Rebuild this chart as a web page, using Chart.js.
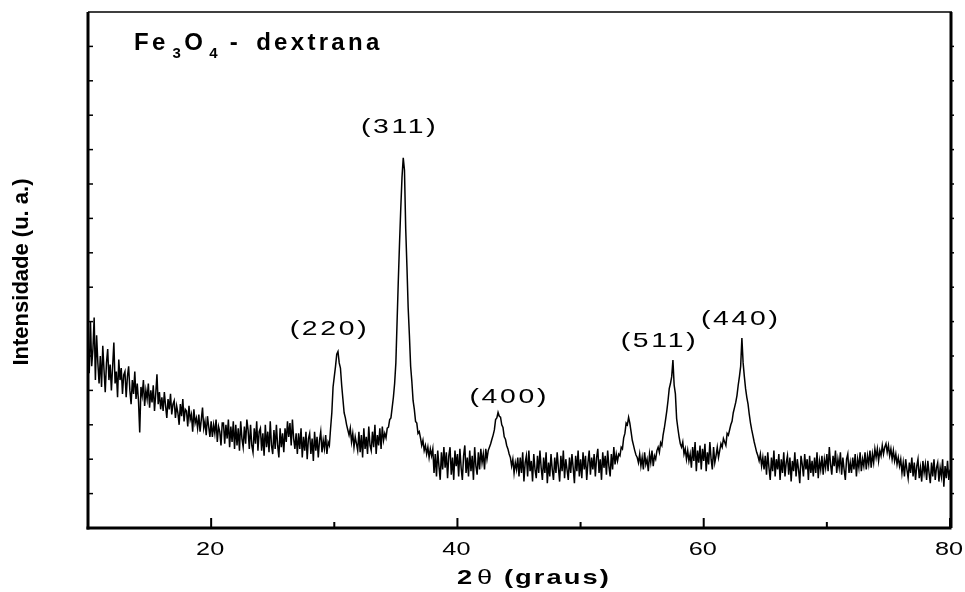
<!DOCTYPE html>
<html>
<head>
<meta charset="utf-8">
<script src="https://cdn.jsdelivr.net/npm/chart.js@4.4.0/dist/chart.umd.min.js"></script>
<style>
  html, body { margin: 0; padding: 0; background: #fff; }
  canvas { display: block; }
</style>
</head>
<body>
<canvas id="chart" width="965" height="592"></canvas>
<script>
// 2theta grid: 10.0 .. 80.0 deg, step 0.1 deg
const startAngle = 10;
const angleStep = 0.1;

// intensity (a.u.), one row = 1 degree
const intensity = [
  540, 450, 600, 470, 520, 612, 430, 560, 480, 420, // 10
  500, 410, 530, 460, 395, 480, 520, 430, 475, 400, // 11
  470, 539, 420, 455, 380, 490, 430, 465, 390, 445, // 12
  455, 380, 440, 470, 400, 360, 430, 390, 455, 375, // 13
  420, 370, 278, 410, 385, 430, 355, 400, 375, 420, // 14
  350, 400, 365, 415, 340, 390, 447, 360, 395, 345, // 15
  380, 340, 395, 355, 320, 375, 345, 390, 330, 360, // 16
  370, 320, 355, 335, 300, 360, 325, 375, 310, 345, // 17
  340, 295, 355, 315, 330, 280, 345, 305, 320, 290, // 18
  330, 280, 315, 350, 290, 310, 270, 325, 295, 265, // 19
  310, 265, 300, 275, 315, 250, 295, 280, 240, 305, // 20
  305, 245, 300, 260, 315, 235, 295, 250, 310, 230, // 21
  300, 240, 290, 225, 310, 260, 235, 295, 245, 315, // 22
  285, 230, 300, 240, 220, 290, 245, 310, 225, 280, // 23
  290, 225, 275, 210, 300, 235, 280, 220, 310, 240, // 24
  215, 285, 230, 300, 240, 205, 290, 235, 275, 220, // 25
  290, 250, 310, 265, 305, 240, 315, 260, 230, 275, // 26
  215, 275, 230, 290, 205, 265, 225, 280, 200, 260, // 27
  275, 215, 260, 195, 280, 225, 265, 205, 255, 280, // 28
  220, 255, 230, 270, 215, 250, 240, 290, 335, 410, // 29
  440, 470, 505, 513, 480, 465, 415, 375, 335, 320, // 30
  300, 285, 270, 290, 250, 275, 235, 265, 245, 225, // 31
  280, 220, 270, 205, 290, 230, 265, 215, 295, 240, // 32
  225, 280, 235, 300, 215, 270, 240, 290, 230, 295, // 33
  255, 275, 262, 290, 293, 315, 320, 350, 380, 420, // 34
  480, 600, 720, 830, 930, 1020, 1076, 1040, 870, 760, // 35
  640, 560, 470, 425, 370, 345, 310, 305, 275, 280, // 36
  262, 240, 255, 225, 240, 215, 235, 205, 230, 210, // 37
  230, 160, 215, 150, 225, 180, 140, 220, 170, 235, // 38
  175, 220, 145, 210, 235, 155, 205, 140, 225, 180, // 39
  215, 150, 230, 175, 140, 210, 240, 160, 205, 150, // 40
  225, 165, 210, 140, 235, 180, 155, 220, 170, 230, // 41
  190, 215, 170, 230, 200, 225, 235, 245, 258, 270, // 42
  285, 315, 320, 336, 325, 322, 300, 292, 265, 258, // 43
  240, 230, 215, 205, 180, 200, 160, 190, 170, 205, // 44
  150, 205, 160, 220, 135, 190, 210, 150, 225, 165, // 45
  195, 135, 215, 170, 145, 210, 160, 225, 175, 140, // 46
  205, 160, 220, 130, 190, 150, 215, 170, 140, 205, // 47
  160, 220, 175, 135, 210, 165, 225, 145, 200, 170, // 48
  140, 205, 160, 215, 175, 130, 210, 165, 225, 150, // 49
  200, 145, 220, 170, 210, 140, 190, 225, 155, 205, // 50
  170, 215, 150, 205, 230, 160, 200, 140, 220, 175, // 51
  210, 155, 225, 180, 150, 215, 170, 235, 185, 215, // 52
  195, 215, 210, 235, 230, 262, 275, 305, 300, 322, // 53
  305, 280, 255, 240, 225, 212, 205, 190, 215, 180, // 54
  205, 170, 220, 185, 200, 165, 215, 190, 225, 180, // 55
  210, 200, 225, 235, 220, 248, 240, 270, 290, 314, // 56
  340, 370, 405, 420, 440, 488, 415, 390, 318, 290, // 57
  265, 245, 235, 250, 215, 230, 200, 225, 195, 215, // 58
  175, 235, 195, 250, 165, 225, 190, 240, 170, 230, // 59
  195, 245, 165, 220, 185, 250, 200, 170, 235, 190, // 60
  210, 235, 205, 225, 245, 235, 260, 250, 240, 275, // 61
  270, 285, 300, 310, 335, 350, 365, 385, 415, 440, // 62
  470, 552, 480, 440, 405, 380, 360, 330, 305, 285, // 63
  268, 250, 235, 220, 210, 195, 215, 180, 205, 170, // 64
  210, 155, 220, 175, 140, 205, 165, 225, 150, 200, // 65
  170, 215, 140, 200, 160, 220, 150, 190, 210, 155, // 66
  205, 135, 195, 165, 220, 150, 200, 170, 130, 210, // 67
  185, 150, 215, 170, 200, 140, 210, 160, 195, 150, // 68
  205, 160, 220, 145, 195, 170, 210, 155, 200, 175, // 69
  215, 165, 235, 185, 155, 210, 180, 225, 160, 200, // 70
  175, 220, 155, 205, 170, 140, 200, 215, 160, 190, // 71
  160, 205, 170, 215, 150, 200, 175, 220, 165, 200, // 72
  180, 220, 170, 210, 185, 225, 175, 215, 190, 230, // 73
  205, 230, 195, 225, 210, 240, 215, 235, 245, 220, // 74
  240, 210, 230, 200, 225, 195, 215, 185, 205, 180, // 75
  200, 160, 190, 150, 200, 170, 145, 190, 160, 205, // 76
  150, 190, 140, 180, 200, 145, 175, 135, 195, 160, // 77
  185, 140, 195, 160, 130, 190, 150, 200, 140, 175, // 78
  190, 135, 175, 150, 200, 120, 180, 145, 195, 140, // 79
  170                                               // 80
];

const angles = intensity.map((_, i) => +(startAngle + i * angleStep).toFixed(1));

// axis
const xMin = 10, xMax = 80, xStep = 10;
const xLabelTicks = [20, 40, 60, 80];
const yMin = 0, yMax = 1500, yStep = 100;

// peak labels (hkl), placed at angle / intensity
const peakLabels = ["(220)", "(311)", "(400)", "(511)", "(440)"];
const peakLabelAngles = [29.5, 35.2, 44.1, 56.3, 62.9];
const peakLabelHeights = [578, 1166, 381, 544, 608];

const FONT = "'Liberation Sans', Arial, sans-serif";

// draws a sequence of text runs (for subscripts / mixed weights)
function drawRuns(ctx, runs, x, y, opts) {
  ctx.save();
  ctx.translate(x, y);
  if (opts.rotate) ctx.rotate(opts.rotate);
  ctx.scale(opts.sx || 1, 1);
  ctx.letterSpacing = (opts.ls || 0) + "px";
  ctx.textBaseline = opts.baseline || "alphabetic";
  ctx.textAlign = "left";
  let total = 0;
  runs.forEach(r => {
    ctx.font = r.font;
    total += (r.dx || 0) + ctx.measureText(r.t).width;
  });
  total -= opts.ls || 0;
  let cx = opts.align === "center" ? -total / 2 : 0;
  runs.forEach(r => {
    ctx.font = r.font;
    cx += r.dx || 0;
    ctx.fillText(r.t, cx, r.dy || 0);
    cx += ctx.measureText(r.t).width;
  });
  ctx.restore();
}

const framePlugin = {
  id: "frame",
  afterDatasetsDraw(chart) {
    const { ctx, chartArea: a, scales: { x, y } } = chart;
    ctx.save();
    ctx.fillStyle = "#000";

    // box
    ctx.fillRect(a.left - 1.5, a.top, 3, a.bottom - a.top + 1.5);
    ctx.fillRect(a.left - 1.5, a.bottom - 1.5, a.right - a.left + 3, 3);
    ctx.fillRect(a.right - 0.5, a.top, 3, a.bottom - a.top);
    ctx.fillRect(a.left, a.top - 0.75, a.right - a.left + 2, 1.5);

    // y ticks (no labels)
    y.ticks.forEach(t => {
      if (t.value <= yMin || t.value >= yMax) return;
      const py = y.getPixelForValue(t.value);
      ctx.fillRect(a.left, py - 0.75, 5, 1.5);
      ctx.fillRect(a.right + 2, py - 0.75, 2, 1.5);
    });

    // x ticks + labels
    x.ticks.forEach(t => {
      if (t.value <= xMin) return;
      const px = x.getPixelForValue(t.value);
      const major = xLabelTicks.includes(t.value);
      const len = major ? 10 : 6;
      ctx.fillRect(px - 1, a.bottom - len, 2, len);
      if (major) {
        drawRuns(ctx, [{ t: String(t.value), font: "19px " + FONT }],
          px - 1, a.bottom + 22, { align: "center", baseline: "middle", sx: 1.33 });
      }
    });

    // axis titles
    drawRuns(ctx, [
      { t: "2", font: "bold 21px " + FONT },
      { t: "θ", font: "21px " + FONT, dx: 2 },
      { t: " (graus)", font: "bold 21px " + FONT }
    ], (a.left + a.right) / 2 + 14, a.bottom + 50, { align: "center", baseline: "middle", sx: 1.3, ls: 1.6 });

    drawRuns(ctx, [{ t: "Intensidade (u. a.)", font: "bold 22px " + FONT }],
      22, (a.top + a.bottom) / 2 + 2, { align: "center", baseline: "middle", rotate: -Math.PI / 2 });

    // sample title
    const big = "bold 24px " + FONT, sub = "bold 15px " + FONT;
    drawRuns(ctx, [
      { t: "Fe", font: big },
      { t: "3", font: sub, dx: 4, dy: 8 },
      { t: "O", font: big },
      { t: "4", font: sub, dx: 3, dy: 8 },
      { t: "-", font: big, dx: 9 },
      { t: "dextrana", font: big, dx: 15 }
    ], a.left + 46, a.top + 38, { ls: 3.3 });

    // peak labels
    peakLabels.forEach((lab, i) => {
      drawRuns(ctx, [{ t: lab, font: "21px " + FONT }],
        x.getPixelForValue(peakLabelAngles[i]), y.getPixelForValue(peakLabelHeights[i]),
        { align: "center", baseline: "middle", sx: 1.35, ls: 2 });
    });

    ctx.restore();
  }
};

const ctx = document.getElementById("chart").getContext("2d");
new Chart(ctx, {
  type: "line",
  data: {
    datasets: [{
      label: "Fe3O4 - dextrana",
      data: angles.map((a, i) => ({ x: a, y: intensity[i] })),
      borderColor: "#000",
      borderWidth: 1.5,
      pointRadius: 0,
      tension: 0,
      fill: false
    }]
  },
  options: {
    responsive: false,
    animation: false,
    devicePixelRatio: 1,
    layout: { padding: { left: 88, right: 15, top: 12, bottom: 64 } },
    plugins: { legend: { display: false }, tooltip: { enabled: false } },
    scales: {
      x: {
        type: "linear", min: xMin, max: xMax,
        ticks: { display: false, stepSize: xStep },
        grid: { display: false, drawTicks: false },
        border: { display: false }
      },
      y: {
        min: yMin, max: yMax,
        ticks: { display: false, stepSize: yStep },
        grid: { display: false, drawTicks: false },
        border: { display: false }
      }
    }
  },
  plugins: [framePlugin]
});
</script>
</body>
</html>
